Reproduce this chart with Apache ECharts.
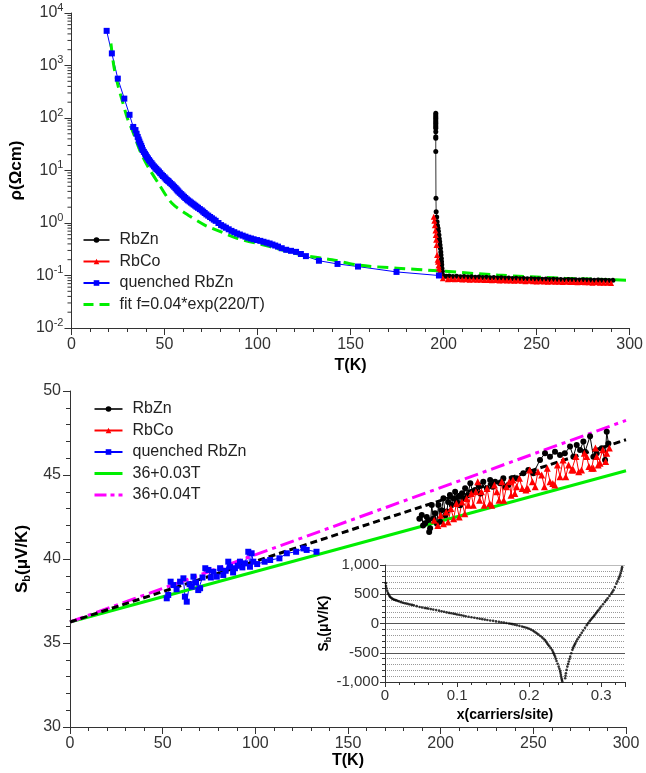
<!DOCTYPE html>
<html><head><meta charset="utf-8">
<script src="https://cdn.jsdelivr.net/npm/echarts@6/dist/echarts.min.js"></script>
<style>html,body{margin:0;padding:0;background:#fff}#c{width:646px;height:773px}</style>
</head><body><div id="c"></div>
<script>
// ---------- top panel: resistivity (T, rho) ----------
const rbZnRho = [
 [195.8,123],[195.8,114],[195.8,106],[195.8,98.6],[195.8,91.6],[195.8,85.1],[195.8,79.4],[195.8,73.6],
 [195.8,68.4],[195.8,63.7],[195.8,55],[195.8,44],[195.8,41],[195.8,22.9],[195.9,2.95],[196.0,1.64],
 [196.3,1.3],[196.5,1.06],[196.7,0.9],[197.0,0.79],[197.2,0.7],[197.5,0.59],[197.7,0.5],[197.9,0.44],
 [198.1,0.38],[198.3,0.33],[198.5,0.28],[198.6,0.245],[198.8,0.21],[198.9,0.182],[199.0,0.16],[199.1,0.138],
 [199.3,0.12],[199.5,0.102],[201.4,0.097],[203,0.098],[205,0.096],[207,0.097],[209,0.095],[211,0.096],
 [213,0.094],[215,0.095],[217,0.093],[219,0.094],[221,0.092],[223,0.093],[225,0.091],[227,0.092],
 [229,0.090],[231,0.091],[233,0.089],[235,0.090],[237,0.088],[239,0.089],[241,0.087],[243,0.088],
 [245,0.087],[247,0.087],[249,0.086],[251,0.086],[253,0.085],[255,0.086],[257,0.084],[259,0.085],
 [261,0.084],[263,0.084],[265,0.083],[267,0.084],[269,0.083],[271,0.083],[273,0.082],[275,0.083],
 [277,0.082],[279,0.082],[281,0.081],[283,0.082],[285,0.081],[287,0.081],[289,0.080],[291,0.081]
];
const rbCoRho = [
 [194.7,1.32],[195.0,1.1],[195.3,0.91],[195.6,0.72],[195.8,0.59],[196.0,0.48],[196.2,0.38],[196.5,0.245],
 [196.8,0.2],[197.0,0.182],[197.3,0.155],[197.5,0.138],[197.9,0.118],[198.3,0.102],[199.6,0.089],[202.3,0.085],
 [204,0.086],[206,0.085],[208,0.086],[210,0.084],[212,0.085],[214,0.083],[216,0.084],[218,0.083],
 [220,0.083],[222,0.082],[224,0.082],[226,0.081],[228,0.082],[230,0.080],[232,0.081],[234,0.080],
 [236,0.080],[238,0.079],[240,0.080],[242,0.079],[244,0.078],[246,0.079],[248,0.078],[250,0.077],
 [252,0.078],[254,0.077],[256,0.076],[258,0.077],[260,0.076],[262,0.076],[264,0.075],[266,0.076],
 [268,0.075],[270,0.075],[272,0.074],[274,0.075],[276,0.074],[278,0.074],[280,0.073],[282,0.074],
 [284,0.073],[286,0.073],[288,0.073],[290,0.072]
];
const quenchedRho = [
 [18.9,4570],[21.7,1700],[24.9,562],[28.4,234],[31.2,115],[33.2,67.6],[34.4,58.9],[35.0,50.1],
 [35.6,43.6],[36.1,38.9],[36.5,35.5],[37.0,32.4],[37.5,29.5],[37.9,26.9],[38.3,24.5],[38.9,22.6],
 [39.5,20.9],[40.0,19.5],[40.5,18.2],[41.1,17.0],[41.7,15.8],[42.3,14.8],[43.0,13.8],[43.6,12.9],
 [44.3,12.0],[45.0,11.35],[45.6,10.7],[46.3,10.1],[47.0,9.55],[47.7,8.91],[48.5,8.32],[49.2,7.85],
 [50.0,7.41],[50.6,7.0],[51.2,6.61],[51.8,6.38],[52.3,6.17],[53.0,5.82],[53.8,5.50],[54.5,5.19],
 [55.2,4.90],[55.9,4.62],[56.5,4.37],[57.0,4.17],[57.5,3.98],[58.2,3.76],[59.0,3.55],[59.7,3.35],
 [60.5,3.16],[61.2,2.99],[62.0,2.82],[62.7,2.69],[63.5,2.57],[64.2,2.45],[65.0,2.34],[65.7,2.24],
 [66.5,2.14],[67.2,2.04],[68.0,1.95],[69.0,1.84],[70.0,1.74],[70.8,1.64],[71.6,1.55],[72.5,1.46],
 [73.5,1.38],[74.5,1.30],[75.5,1.23],[76.5,1.16],[77.5,1.10],[79.0,1.00],[80.4,0.912],[81.7,0.861],
 [83.0,0.813],[84.5,0.759],[86.0,0.708],[87.5,0.668],[89.0,0.631],[90.5,0.603],[92.0,0.575],[93.5,0.550],
 [95.0,0.525],[96.5,0.507],[97.9,0.490],[99.7,0.473],[101.5,0.457],[103.2,0.439],[104.9,0.422],[106.5,0.407],
 [108.0,0.389],[109.5,0.372],[111.0,0.355],[113,0.331],[115.4,0.309],[118,0.295],[120.7,0.282],[123.3,0.257],
 [126,0.234],[133,0.191],[143,0.166],[154,0.148],[174.7,0.117],[197.5,0.100]
];
const fitRho = [
 [21.2,2630],[22.8,955],[25,417],[27.2,219],[30,100],[33.3,51.3],[37,22.9],[41.2,11.7],[47,5.5],
 [54,2.37],[62.8,1.41],[71.6,0.912],[80.4,0.676],[89,0.513],[106.7,0.355],[124,0.245],[140,0.2],
 [154,0.158],[175,0.138],[197,0.123],[229,0.102],[265,0.089],[300,0.081]
];
const logMajorExponents = [-2,-1,0,1,2,3,4];

// ---------- bottom panel: Seebeck (T, Sb) ----------
const rbZnSb = [
 [188.5,42.4],[189.8,42.62],[190.5,42.0],[191.6,42.13],[192.5,42.5],[193.4,42.32],[193.8,41.6],[194.3,41.83],
 [195.2,43.21],[196,42.4],[197,42.72],[198,42.1],[198.8,43.21],[199.7,42.22],[200.5,42.9],[201.5,43.61],
 [202.5,42.6],[203.3,42.82],[204,43.4],[205,43.81],[206,43.21],[207,43.6],[207.8,44.01],[208.7,43.4],
 [209.6,43.71],[210.5,43.2],[211.5,43.91],[212.3,43.6],[213.2,44.21],[214.5,43.8],[216,44.51],[217.3,44.0],
 [218.6,44.11],[220.4,44.4],[221.5,43.9],[223,44.6],[224.9,44.21],[226.7,44.7],[228,44.3],[229.4,44.6],
 [232,44.51],[233.8,44.8],[235,44.3],[236.5,44.4],[238.4,44.8],[241,44.8],[244.6,45.1],[247.3,45.3],
 [250,45.1],[253.6,45.9],[256.3,46.29],[259,46.09],[261.7,46.39],[264.4,46.19],[267,46.29],[269.8,46.69],
 [271.6,46.09],[273.4,46.79],[275.2,46.49],[277,47.0],[277.9,46.39],[280.6,47.3],[282.4,46.09],[284.2,46.29],
 [286.9,46.59],[288.7,45.9],[289.6,47.58],[290.5,46.88]
];
const rbCoSb = [
 [196.5,42.3],[198.5,42.0],[200,42.6],[201.5,42.1],[203,42.8],[204,42.2],[205.5,43.0],[207,42.4],
 [208.5,43.3],[210,42.5],[211.5,43.4],[213,42.7],[214,43.6],[215,43.2],[216.5,43.9],[217.6,43.2],
 [219,44.0],[220,44.6],[221,43.5],[222,44.0],[223.5,43.2],[225,44.2],[226.5,43.3],[227.6,43.2],
 [229,44.4],[230.3,44.0],[231.5,43.5],[233,44.6],[234,43.5],[235.5,44.3],[237,44.6],[238,43.8],
 [239,44.7],[240,43.9],[241,44.3],[242.5,44.8],[244,44.2],[246,44.1],[247,44.2],[248,45.3],
 [249.5,44.6],[251,44.3],[252.5,45.2],[254.5,45.0],[256,44.3],[257.5,45.4],[259,44.6],[260.5,44.5],
 [261.6,44.4],[263,45.6],[264.4,44.9],[266,45.9],[267.5,44.9],[269,45.6],[270.7,45.3],[271.6,45.3],
 [273,46.1],[274.5,45.2],[276,45.3],[277.5,46.3],[278.8,46.1],[280,45.5],[281.5,45.4],[282.4,45.4],
 [283.5,46.6],[284.2,46.1],[285,45.6],[286,45.7],[287.5,46.5],[289,45.8],[289.6,46.3],[291,46.6]
];
const quenchedSb = [
 [52.2,37.66],[53,37.86],[54.3,38.65],[55.8,38.45],[57.5,38.2],[59.4,38.65],[61.2,38.85],[62,37.76],
 [63,37.46],[64.5,38.5],[65.7,38.35],[66.6,38.95],[68,38.6],[69.2,38.15],[70.2,38.26],[71.5,38.9],
 [73,39.45],[74.7,39.35],[76,38.9],[77.4,39.24],[79.2,38.95],[81,39.45],[82.7,39.05],[84,39.3],
 [85.4,39.84],[86.3,39.54],[88,39.2],[89,39.45],[90.5,39.6],[91.7,39.84],[93,39.5],[94.4,39.74],
 [96.2,40.43],[97.1,39.54],[98,40.34],[98.9,39.84],[101,39.7],[105,39.84],[108,39.94],[113,40.04],
 [117,40.34],[122,40.43],[126,40.63],[127.7,40.54],[133,40.43]
];
const line003 = [[0,36.25],[300,45.25]];
const line004 = [[0,36.25],[300,48.25]];
const lineMid = [[0,36.25],[300,47.1]];

// ---------- inset: Sb vs carriers per site ----------
const carrierSb = [
 [0.0012,690],[0.0014,640],[0.002,600],[0.003,560],[0.004,525],[0.005,500],[0.006,475],[0.007,455],
 [0.0085,440],[0.01,425],[0.0115,415],[0.013,405],[0.0145,400],[0.016,395],[0.018,385],[0.02,375],
 [0.0225,365],[0.025,355],[0.0275,347],[0.03,340],[0.0325,332],[0.035,325],[0.0375,318],[0.04,310],
 [0.044,297],[0.048,283],[0.0515,274],[0.055,265],[0.0575,260],[0.06,255],[0.0635,246],[0.067,238],
 [0.071,229],[0.075,220],[0.0785,210],[0.082,200],[0.0855,190],[0.089,181],[0.092,175],[0.095,168],
 [0.0975,162],[0.1,155],[0.103,148],[0.106,140],[0.109,132],[0.112,125],[0.116,116],[0.12,108],
 [0.124,99],[0.128,90],[0.1315,82],[0.135,74],[0.1385,67],[0.142,60],[0.146,52],[0.15,45],
 [0.154,36],[0.158,28],[0.1615,21],[0.165,15],[0.1685,8],[0.172,0],[0.1745,-5],[0.177,-11],
 [0.18,-20],[0.183,-30],[0.1865,-40],[0.19,-50],[0.1925,-59],[0.195,-68],[0.1975,-78],[0.2,-90],
 [0.2025,-104],[0.205,-120],[0.207,-136],[0.209,-153],[0.211,-171],[0.213,-190],[0.2155,-214],[0.218,-238],
 [0.22,-261],[0.222,-285],[0.2235,-312],[0.225,-340],[0.2265,-365],[0.228,-390],[0.23,-421],[0.232,-453],
 [0.233,-482],[0.234,-510],[0.235,-538],[0.236,-567],[0.237,-603],[0.238,-640],[0.2395,-688],[0.241,-737],
 [0.242,-773],[0.243,-810],[0.2435,-844],[0.244,-878],[0.2445,-910],[0.245,-940],[0.2455,-965],[0.246,-991],
 [0.250,-935],[0.2505,-892],[0.251,-850],[0.252,-793],[0.253,-737],[0.254,-693],[0.255,-650],[0.256,-608],
 [0.257,-567],[0.2585,-508],[0.26,-450],[0.261,-420],[0.262,-390],[0.263,-365],[0.264,-340],[0.2655,-305],
 [0.267,-270],[0.269,-234],[0.271,-198],[0.273,-159],[0.275,-120],[0.2775,-74],[0.28,-28],[0.282,6],
 [0.284,40],[0.2855,62],[0.287,85],[0.2885,107],[0.29,130],[0.2915,155],[0.293,180],[0.2945,203],
 [0.296,227],[0.298,258],[0.3,290],[0.3025,329],[0.305,368],[0.307,399],[0.309,430],[0.3115,470],
 [0.314,510],[0.3155,540],[0.317,570],[0.319,625],[0.321,680],[0.3225,720],[0.324,760],[0.325,791],
 [0.326,822],[0.327,861],[0.328,900],[0.3285,932],[0.329,963]
];

const FONT = '"Liberation Sans", Arial, sans-serif';
const AX = '#333';

// minor ticks of the log axis (2..9 x 10^k)
const logMinorTicks = [];
for (let i = 0; i < logMajorExponents.length - 1; i++) {
  for (let m = 2; m <= 9; m++) logMinorTicks.push([0, m * Math.pow(10, logMajorExponents[i])]);
}

function valueAxis(extra) {
  return Object.assign({
    type: 'value',
    axisLine: { show: true, onZero: false, lineStyle: { color: AX, width: 1 } },
    axisTick: { show: true, inside: false, length: 7, lineStyle: { color: AX } },
    minorTick: { show: true, splitNumber: 5, length: 4, lineStyle: { color: AX } },
    axisLabel: { fontFamily: FONT, fontSize: 16, color: AX, margin: 9 },
    splitLine: { show: false },
    nameLocation: 'middle',
    nameTextStyle: { fontFamily: FONT, fontSize: 16, fontWeight: 'bold', color: '#000' }
  }, extra);
}

const noSymbol = { opacity: 0 };
const legendText = { fontFamily: FONT, fontSize: 16, color: '#222', lineHeight: 16, padding: [0, 0, 0, 5] };

const chart = echarts.init(document.getElementById('c'), null, { renderer: 'canvas' });
chart.setOption({
  animation: false,
  backgroundColor: '#fff',
  grid: [
    { left: 65, top: 13, width: 569, height: 315 },
    { left: 70, top: 391, width: 556, height: 336 },
    { left: 385, top: 565, width: 240, height: 117 }
  ],
  xAxis: [
    valueAxis({ gridIndex: 0, min: 0, max: 300, interval: 50, name: 'T(K)', nameGap: 30 }),
    valueAxis({ gridIndex: 1, min: 0, max: 300, interval: 50, name: 'T(K)', nameGap: 24 }),
    valueAxis({ gridIndex: 2, min: 0, max: 0.333, interval: 0.1, name: 'x(carriers/site)', nameGap: 26,
      nameTextStyle: { fontFamily: FONT, fontSize: 14, fontWeight: 'bold', color: '#000' },
      axisTick: { show: true, length: 5, lineStyle: { color: AX } },
      minorTick: { show: true, splitNumber: 5, length: 3, lineStyle: { color: AX } },
      axisLabel: { fontFamily: FONT, fontSize: 15, color: AX, margin: 6, showMaxLabel: false,
        formatter: v => (v === 0 ? '0' : v.toFixed(1)) } })
  ],
  yAxis: [
    {
      gridIndex: 0, type: 'log', logBase: 10, min: 0.01, max: 10000,
      axisLine: { show: true, onZero: false, lineStyle: { color: AX, width: 1 } },
      axisTick: { show: true, inside: false, length: 7, lineStyle: { color: AX } },
      minorTick: { show: false },
      splitLine: { show: false },
      axisLabel: {
        margin: 8,
        formatter: v => '{b|10}{s|' + Math.round(Math.log10(v)) + '}',
        rich: {
          b: { fontFamily: FONT, fontSize: 16, lineHeight: 22, color: AX },
          s: { fontFamily: FONT, fontSize: 11, lineHeight: 11, verticalAlign: 'top', color: AX }
        }
      },
      name: 'ρ(Ωcm)', nameLocation: 'middle', nameGap: 42,
      nameTextStyle: { fontFamily: FONT, fontSize: 17, fontWeight: 'bold', color: '#000' }
    },
    valueAxis({ gridIndex: 1, min: 30, max: 50, interval: 5, name: 'S{sub|b}(μV/K)', nameGap: 35,
      nameTextStyle: { fontFamily: FONT, fontSize: 17, fontWeight: 'bold', color: '#000', lineHeight: 20,
        rich: { sub: { fontFamily: FONT, fontSize: 11, fontWeight: 'bold', color: '#000', verticalAlign: 'bottom', lineHeight: 11 } } } }),
    valueAxis({ gridIndex: 2, min: -1000, max: 1000, interval: 500, name: 'S{sub|b}(μV/K)', nameGap: 52,
      nameTextStyle: { fontFamily: FONT, fontSize: 14, fontWeight: 'bold', color: '#000', lineHeight: 17,
        rich: { sub: { fontFamily: FONT, fontSize: 9, fontWeight: 'bold', color: '#000', verticalAlign: 'bottom', lineHeight: 9 } } },
      axisTick: { show: true, length: 5, lineStyle: { color: AX } },
      minorTick: { show: true, splitNumber: 5, length: 3, lineStyle: { color: AX } },
      axisLabel: { fontFamily: FONT, fontSize: 15, color: AX, margin: 6, formatter: v => v.toLocaleString('en-US') },
      splitLine: { show: true, lineStyle: { color: ['#555', '#555', '#555', '#555', '#bbb'], width: 1 } },
      minorSplitLine: { show: true, lineStyle: { color: '#999', type: 'dotted', width: 1 } } })
  ],
  legend: [
    { data: ['RbZn', 'RbCo', 'quenched RbZn',
        { name: 'fit f=0.04*exp(220/T)', itemStyle: noSymbol, lineStyle: { width: 3, type: [10, 6] } }],
      orient: 'vertical', left: 82, top: 232,
      itemWidth: 26, itemHeight: 7, itemGap: 5.5, padding: 0, selectedMode: false, textStyle: legendText },
    { data: ['RbZn', 'RbCo', 'quenched RbZn',
        { name: '36+0.03T', itemStyle: noSymbol, lineStyle: { width: 3 } },
        { name: '36+0.04T', itemStyle: noSymbol, lineStyle: { width: 3, type: [12, 4, 4, 4] } }],
      orient: 'vertical', left: 93, top: 401,
      itemWidth: 28, itemHeight: 7, itemGap: 5.5, padding: 0, selectedMode: false, textStyle: legendText }
  ],
  series: [
    { name: 'logMinor', type: 'custom', xAxisIndex: 0, yAxisIndex: 0, silent: true, data: logMinorTicks,
      renderItem: (params, api) => {
        const p = api.coord([0, api.value(1)]);
        return { type: 'line', shape: { x1: p[0] - 4, y1: p[1], x2: p[0], y2: p[1] }, style: { stroke: AX, lineWidth: 1 } };
      } },
    { name: 'RbZn', type: 'line', xAxisIndex: 0, yAxisIndex: 0, data: rbZnRho, symbol: 'circle', symbolSize: 5,
      itemStyle: { color: '#000' }, lineStyle: { color: '#333', width: 1 } },
    { name: 'RbCo', type: 'line', xAxisIndex: 0, yAxisIndex: 0, data: rbCoRho, symbol: 'triangle', symbolSize: 6,
      itemStyle: { color: '#ff0000' }, lineStyle: { color: '#ff0000', width: 1 } },
    { name: 'quenched RbZn', type: 'line', xAxisIndex: 0, yAxisIndex: 0, data: quenchedRho, symbol: 'rect', symbolSize: 6,
      itemStyle: { color: '#0000ff' }, lineStyle: { color: '#0000ff', width: 1 } },
    { name: 'fit f=0.04*exp(220/T)', type: 'line', xAxisIndex: 0, yAxisIndex: 0, data: fitRho, symbol: 'none', smooth: 0.3,
      itemStyle: { color: '#00ee00' }, lineStyle: { color: '#00ee00', width: 3, type: [11, 6] } },

    { name: 'RbZn', type: 'line', xAxisIndex: 1, yAxisIndex: 1, data: rbZnSb, symbol: 'circle', symbolSize: 6,
      itemStyle: { color: '#000' }, lineStyle: { color: '#000', width: 1 } },
    { name: 'RbCo', type: 'line', xAxisIndex: 1, yAxisIndex: 1, data: rbCoSb, symbol: 'triangle', symbolSize: 7,
      itemStyle: { color: '#ff0000' }, lineStyle: { color: '#ff0000', width: 1 } },
    { name: 'quenched RbZn', type: 'line', xAxisIndex: 1, yAxisIndex: 1, data: quenchedSb, symbol: 'rect', symbolSize: 6,
      itemStyle: { color: '#0000ff' }, lineStyle: { color: '#0000ff', width: 1 } },
    { name: '36+0.03T', type: 'line', xAxisIndex: 1, yAxisIndex: 1, data: line003, symbol: 'none',
      itemStyle: { color: '#00ee00' }, lineStyle: { color: '#00ee00', width: 3 } },
    { name: '36+0.04T', type: 'line', xAxisIndex: 1, yAxisIndex: 1, data: line004, symbol: 'none',
      itemStyle: { color: '#ff00ff' }, lineStyle: { color: '#ff00ff', width: 3, type: [14, 5, 4, 5] } },
    { name: 'mean fit', type: 'line', xAxisIndex: 1, yAxisIndex: 1, data: lineMid, symbol: 'none',
      itemStyle: { color: '#000' }, lineStyle: { color: '#000', width: 3, type: [7, 4] } },

    { name: 'Sb(x)', type: 'scatter', xAxisIndex: 2, yAxisIndex: 2, data: carrierSb, symbol: 'circle', symbolSize: 2.6,
      itemStyle: { color: '#000' } }
  ]
});
</script></body></html>
